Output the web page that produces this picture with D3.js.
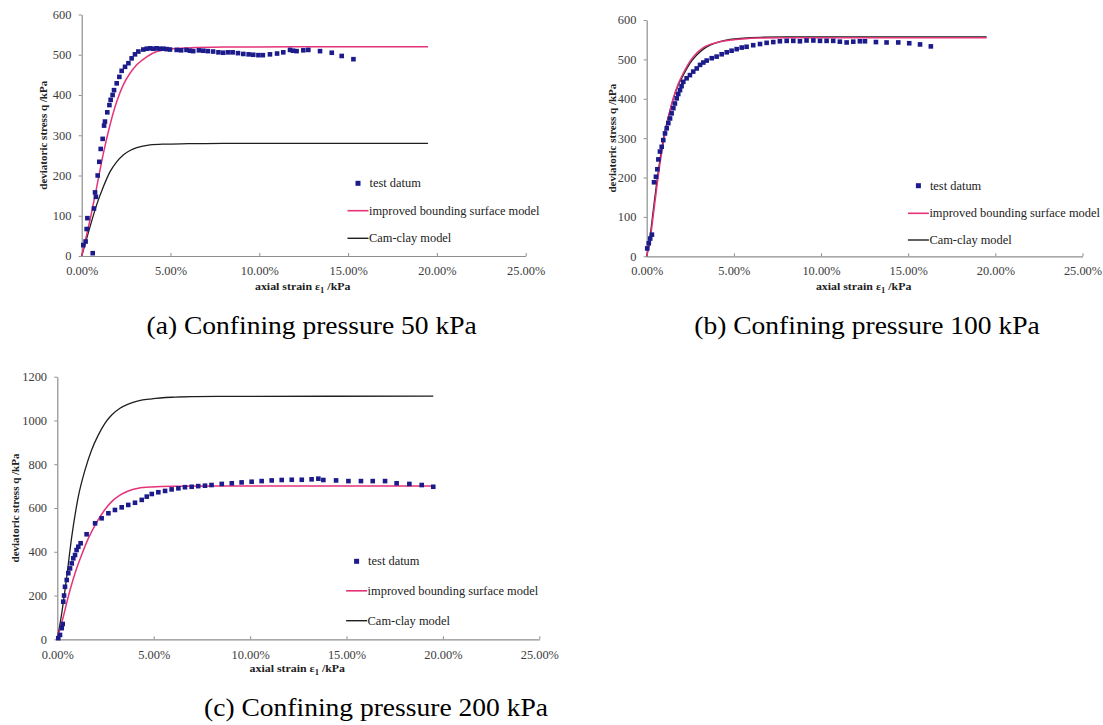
<!DOCTYPE html>
<html>
<head>
<meta charset="utf-8">
<script src="https://cdn.jsdelivr.net/npm/d3@7"></script>
<style>
  html, body { margin: 0; padding: 0; background: #ffffff; }
  svg { display: block; }
  text { font-family: "Liberation Serif", "Times New Roman", serif; }
</style>
</head>
<body>
<svg id="chart" width="1103" height="725"></svg>
<script>
// ---------- DATA (strain in %, deviatoric stress q in kPa) ----------
const xTicks = [0, 5, 10, 15, 20, 25];
const yTicksA = [0, 100, 200, 300, 400, 500, 600];
const yTicksB = [0, 100, 200, 300, 400, 500, 600];
const yTicksC = [0, 200, 400, 600, 800, 1000, 1200];

const legendLabels = ["test datum", "improved bounding surface model", "Cam-clay model"];
const captions = ["(a) Confining pressure 50 kPa", "(b) Confining pressure 100 kPa", "(c) Confining pressure 200 kPa"];
const yTitle = "deviatoric stress q /kPa";

// (a) 50 kPa
const testA = [
  [0.09,27],[0.22,36],[0.28,67],[0.32,94],[0.62,7],[0.69,118],[0.75,158],[0.8,147],[0.9,200],
  [0.99,234],[1.07,266],[1.18,291],[1.26,324],[1.31,334],[1.44,357],[1.56,375],[1.63,388],
  [1.74,400],[1.82,412],[1.97,429],[2.12,445],[2.25,460],[2.44,470],[2.63,479],[2.81,491],
  [3.0,501],[3.19,508],[3.47,513],[3.66,515],[3.85,516],[4.03,515],[4.22,516],[4.41,515],
  [4.6,515],[4.78,514],[4.97,513],[5.35,512],[5.6,511],[5.9,512],[6.1,510],[6.28,509],
  [6.6,511],[6.85,510],[7.1,509],[7.4,508],[7.7,506],[7.97,505],[8.25,506],[8.5,506],
  [8.8,504],[9.1,502],[9.4,501],[9.66,500],[9.95,499],[10.2,499],[10.6,501],[11.0,503],
  [11.35,506],[11.73,512],[11.9,510],[12.1,509],[12.48,511],[12.76,512],[13.42,509],
  [14.08,505],[14.64,497],[15.3,489]
];
const redA = [
  [0,0],[0.47,90],[0.84,170],[1.22,255],[1.59,325],[1.97,383],[2.34,425],[2.72,454],
  [3.1,475],[3.66,495],[4.22,508],[4.97,514],[6,517],[8,519],[12,520],[19.5,520]
];
const blackA = [
  [0,0],[0.47,73],[0.84,127],[1.22,172],[1.59,209],[1.97,234],[2.34,251],[2.72,262],
  [3.1,269],[3.85,276],[4.6,278],[6,279],[8,280],[19.5,280]
];

// (b) 100 kPa
const testB = [
  [0.03,20],[0.12,33],[0.2,45],[0.3,55],
  [0.42,188],[0.53,202],[0.61,221],[0.67,246],[0.76,266],[0.86,278],[0.95,295],[1.05,312],
  [1.15,325],[1.24,338],[1.34,350],[1.43,363],[1.53,376],[1.62,388],[1.72,401],[1.81,412],
  [1.91,422],[2.0,432],[2.1,443],[2.29,452],[2.48,460],[2.67,469],[2.87,477],[3.06,486],
  [3.25,492],[3.44,497],[3.73,503],[4.01,507],[4.3,513],[4.59,518],[4.87,522],[5.16,526],
  [5.45,530],[5.73,532],[6.11,536],[6.5,539],[6.88,542],[7.26,544],[7.64,546],[8.03,547],
  [8.41,547],[8.79,546],[9.17,548],[9.56,548],[9.94,547],[10.32,547],[10.7,547],[11.08,545],
  [11.47,543],[11.85,545],[12.23,546],[12.52,546],[13.15,544],[13.76,543],[14.43,543],
  [15.06,541],[15.68,538],[16.3,533]
];
const redB = [
  [0,0],[0.19,40],[0.38,105],[0.57,172],[0.76,235],[0.95,288],[1.15,333],[1.34,370],
  [1.53,402],[1.81,438],[2.1,465],[2.48,495],[2.87,516],[3.25,530],[3.63,538],[4.2,545],
  [4.78,549],[5.54,552],[6.5,554],[8,555],[19.5,555]
];
const blackB = [
  [0,0],[0.19,50],[0.38,118],[0.57,185],[0.76,245],[0.95,295],[1.15,338],[1.34,371],
  [1.53,401],[1.81,435],[2.1,460],[2.48,490],[2.87,511],[3.25,526],[3.63,536],[4.2,545],
  [4.78,551],[5.54,554],[6.5,556],[8,557],[19.5,557]
];

// (c) 200 kPa
const testC = [
  [0.05,5],[0.14,20],[0.23,51],[0.28,70],[0.31,172],[0.35,200],[0.4,240],[0.49,271],
  [0.57,302],[0.66,324],[0.75,347],[0.83,370],[0.92,385],[1.0,408],[1.09,423],[1.21,439],
  [1.52,480],[1.96,530],[2.3,553],[2.65,576],[2.99,591],[3.34,603],[3.68,614],[4.03,624],
  [4.38,637],[4.64,652],[4.9,664],[5.24,672],[5.59,678],[5.93,685],[6.28,690],[6.62,695],
  [6.97,697],[7.31,700],[7.66,702],[8.0,705],[8.53,710],[9.05,713],[9.56,717],[10.08,720],
  [10.6,723],[11.12,726],[11.64,728],[12.16,729],[12.68,729],[13.19,731],[13.54,734],
  [13.8,728],[14.46,726],[15.1,723],[15.75,723],[16.36,723],[17.0,723],[17.6,713],
  [18.26,710],[18.9,705],[19.5,697]
];
const redC = [
  [0,0],[0.31,103],[0.57,195],[0.92,302],[1.26,385],[1.61,461],[1.96,522],[2.39,583],
  [2.82,629],[3.25,659],[3.68,678],[4.2,690],[4.9,696],[6.0,699],[8,700],[19.5,700]
];
const blackC = [
  [0,0],[0.23,119],[0.49,286],[0.75,469],[1.09,652],[1.44,774],[1.78,865],[2.13,934],
  [2.47,987],[2.82,1025],[3.25,1056],[3.68,1075],[4.2,1090],[4.9,1099],[5.93,1106],
  [7.14,1109],[8.3,1110],[19.5,1111]
];

// ---------- LAYOUT ----------
const SX = 1.08; // horizontal text stretch of the source image
const FONT = '"Liberation Serif", "Times New Roman", serif';
const COL_MARK = "#1b1b8c", COL_RED = "#e5337a", COL_BLACK = "#1e1e1e", COL_AXIS = "#8e8e8e", COL_TICK = "#3c3c3c";

const panels = [
  { test: testA, red: redA, black: blackA, yTicks: yTicksA, yMax: 600,
    px0: 81.7, px1: 525.7, pyB: 256, pyT: 14.5,
    leg: { x: 358, ys: [183.3, 210.7, 238.3] }, yTitleX: 43, xTitleY: 289.5, xLabY: 275.5,
    cap: { text: captions[0], x: 311.6, y: 334 } },
  { test: testB, red: redB, black: blackB, yTicks: yTicksB, yMax: 600,
    px0: 646.7, px1: 1082.5, pyB: 256.3, pyT: 20,
    leg: { x: 918.4, ys: [185.7, 213.3, 240] }, yTitleX: 612, xTitleY: 289.5, xLabY: 275.5,
    cap: { text: captions[1], x: 867, y: 334 } },
  { test: testC, red: redC, black: blackC, yTicks: yTicksC, yMax: 1200,
    px0: 57.3, px1: 539.3, pyB: 639.3, pyT: 376.7,
    leg: { x: 356.6, ys: [561.3, 590.8, 620.7] }, yTitleX: 15.5, xTitleY: 672, xLabY: 659,
    cap: { text: captions[2], x: 376, y: 716 } }
];

const svg = d3.select("#chart");

function stext(parent, x, y, str, opts) {
  const t = parent.append("text")
    .attr("transform", `translate(${x},${y}) scale(${SX},1)`)
    .attr("font-family", FONT)
    .attr("font-size", opts.size)
    .attr("fill", opts.fill || "#000")
    .attr("text-anchor", opts.anchor || "start")
    .text(str);
  if (opts.bold) t.attr("font-weight", "bold");
  return t;
}

panels.forEach(p => {
  const g = svg.append("g");
  const x = d3.scaleLinear().domain([0, 25]).range([p.px0, p.px1]);
  const y = d3.scaleLinear().domain([0, p.yMax]).range([p.pyB, p.pyT]);

  // x axis
  const xa = g.append("g").attr("transform", `translate(0,${p.pyB})`)
    .call(d3.axisBottom(x).tickValues(xTicks).tickFormat(d => d.toFixed(2) + "%")
      .tickSizeInner(-3).tickSizeOuter(0));
  xa.select(".domain").attr("stroke", COL_AXIS).attr("stroke-width", 1.2);
  xa.selectAll(".tick line").attr("stroke", COL_AXIS);
  xa.selectAll(".tick text")
    .attr("y", p.xLabY - p.pyB).attr("dy", 0)
    .attr("transform", `scale(${SX},1)`)
    .attr("font-family", FONT).attr("font-size", 11.5).attr("fill", COL_TICK);

  // y axis
  const ya = g.append("g").attr("transform", `translate(${p.px0},0)`)
    .call(d3.axisLeft(y).tickValues(p.yTicks).tickFormat(d3.format("d"))
      .tickSizeInner(3).tickSizeOuter(0).tickPadding(6.5));
  ya.select(".domain").attr("stroke", COL_AXIS).attr("stroke-width", 1.2);
  ya.selectAll(".tick line").attr("stroke", COL_AXIS);
  ya.selectAll(".tick text")
    .attr("transform", `scale(${SX},1)`)
    .attr("dy", "0.34em")
    .attr("font-family", FONT).attr("font-size", 11.5).attr("fill", COL_TICK);

  // curves
  const line = d3.line().x(d => x(d[0])).y(d => y(d[1])).curve(d3.curveMonotoneX);
  g.append("path").datum(p.black).attr("d", line)
    .attr("fill", "none").attr("stroke", COL_BLACK).attr("stroke-width", 1.3);
  g.append("path").datum(p.red).attr("d", line)
    .attr("fill", "none").attr("stroke", COL_RED).attr("stroke-width", 1.5);

  // test points
  const ms = 4.6;
  g.append("g").selectAll("rect").data(p.test).join("rect")
    .attr("x", d => x(d[0]) - ms / 2).attr("y", d => y(d[1]) - ms / 2)
    .attr("width", ms).attr("height", ms).attr("fill", COL_MARK);

  // legend
  const L = p.leg;
  g.append("rect").attr("x", L.x - 2.5).attr("y", L.ys[0] - 2.5).attr("width", 5).attr("height", 5).attr("fill", COL_MARK);
  g.append("line").attr("x1", L.x - 10.5).attr("x2", L.x + 10.5).attr("y1", L.ys[1]).attr("y2", L.ys[1])
    .attr("stroke", COL_RED).attr("stroke-width", 1.6);
  g.append("line").attr("x1", L.x - 10.5).attr("x2", L.x + 10.5).attr("y1", L.ys[2]).attr("y2", L.ys[2])
    .attr("stroke", COL_BLACK).attr("stroke-width", 1.4);
  stext(g, L.x + 11.5, L.ys[0] + 4, legendLabels[0], { size: 11.5, fill: "#222" });
  stext(g, L.x + 11, L.ys[1] + 4, legendLabels[1], { size: 11.5, fill: "#222" });
  stext(g, L.x + 11, L.ys[2] + 4, legendLabels[2], { size: 11.5, fill: "#222" });

  // axis titles
  const xt = stext(g, (p.px0 + p.px1) / 2 - 1, p.xTitleY, null, { size: 11, bold: true, anchor: "middle", fill: "#222" });
  xt.text(null);
  xt.append("tspan").text("axial strain ε");
  xt.append("tspan").attr("font-size", 8).attr("dy", 3).text("1");
  xt.append("tspan").attr("dy", -3).text(" /kPa");

  g.append("text")
    .attr("transform", `translate(${p.yTitleX},${(p.pyB + p.pyT) / 2}) rotate(-90)`)
    .attr("font-family", FONT).attr("font-size", 11).attr("font-weight", "bold")
    .attr("fill", "#222").attr("text-anchor", "middle").attr("dy", "0.35em")
    .text(yTitle);

  // caption
  stext(svg, p.cap.x, p.cap.y, p.cap.text, { size: 25.5, anchor: "middle", fill: "#000" });
});
</script>
</body>
</html>
